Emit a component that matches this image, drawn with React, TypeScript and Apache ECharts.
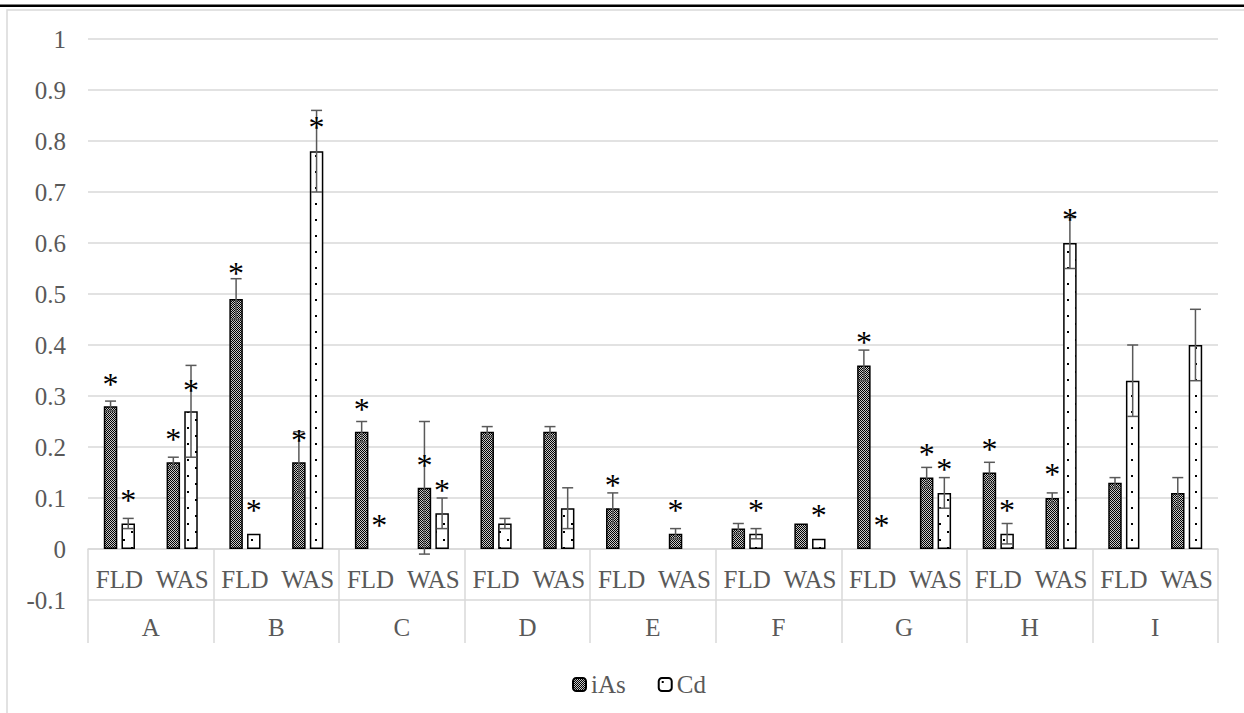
import React, { useEffect, useRef } from 'react';
import * as echarts from 'echarts';

const groups = ['A', 'B', 'C', 'D', 'E', 'F', 'G', 'H', 'I'];
const subs = ['FLD', 'WAS'];
const seriesNames = ['iAs', 'Cd'];

// values per sub-category, in order A-FLD, A-WAS, B-FLD, B-WAS, ...
const iAsValues = [0.28, 0.17, 0.49, 0.17, 0.23, 0.12, 0.23, 0.23, 0.08, 0.03, 0.04, 0.05, 0.36, 0.14, 0.15, 0.10, 0.13, 0.11];
const iAsErrors = [0.01, 0.01, 0.04, 0.06, 0.02, 0.13, 0.01, 0.01, 0.03, 0.01, 0.01, 0, 0.03, 0.02, 0.02, 0.01, 0.01, 0.03];
const iAsStars = [0.338, 0.23, 0.555, 0.227, 0.289, 0.178, null, null, 0.139, 0.09, null, null, 0.42, 0.2, 0.21, 0.16, null, null];

const cdValues = [0.05, 0.27, 0.03, 0.78, 0, 0.07, 0.05, 0.08, 0, 0, 0.03, 0.02, 0, 0.11, 0.03, 0.60, 0.33, 0.40];
const cdErrors = [0.01, 0.09, 0, 0.08, 0, 0.03, 0.01, 0.04, 0, 0, 0.01, 0, 0, 0.03, 0.02, 0.05, 0.07, 0.07];
const cdStars = [0.11, 0.326, 0.09, 0.841, 0.061, 0.129, null, null, null, null, 0.09, 0.08, 0.061, 0.171, 0.09, 0.66, null, null];

const yTicks = { min: -0.1, max: 1, interval: 0.1 };

const FONT = "'Liberation Serif', 'DejaVu Serif', serif";
const FS = 25;
const TEXT = '#595959';
const GRID = '#d9d9d9';

const BAR_W = 0.215;
const BAR_GAP = 0.31;
const STAR_FS = 32;

export default function App() {
  const ref = useRef<HTMLDivElement>(null);
  useEffect(() => {
    const el = ref.current!;
    const chart = echarts.init(el, null, { renderer: 'svg' });

    const mk = (w: number, h: number, draw: (c: CanvasRenderingContext2D) => void) => {
      const c = document.createElement('canvas');
      c.width = w;
      c.height = h;
      draw(c.getContext('2d')!);
      return c;
    };
    const checker = mk(2, 2, (ctx) => {
      ctx.fillStyle = '#c8c8c8';
      ctx.fillRect(0, 0, 2, 2);
      ctx.fillStyle = '#000000';
      ctx.fillRect(0, 0, 1, 1);
      ctx.fillRect(1, 1, 1, 1);
    });
    const dots = mk(16, 16, (ctx) => {
      ctx.fillStyle = '#ffffff';
      ctx.fillRect(0, 0, 16, 16);
      ctx.fillStyle = '#000000';
      ctx.fillRect(3, 3, 2, 2);
      ctx.fillRect(11, 11, 2, 2);
    });

    const xLabels: string[] = [];
    groups.forEach(() => subs.forEach((s) => xLabels.push(s)));

    const valuesBySeries = [iAsValues, cdValues];
    const errorsBySeries = [iAsErrors, cdErrors];
    const starsBySeries = [iAsStars, cdStars];

    const marks: { x: number; s: number; v: number; e: number; star: number | null }[] = [];
    for (let s = 0; s < 2; s++) {
      for (let i = 0; i < xLabels.length; i++) {
        marks.push({ x: i, s, v: valuesBySeries[s][i], e: errorsBySeries[s][i], star: starsBySeries[s][i] });
      }
    }

    const fills = [
      { image: checker, repeat: 'repeat' },
      { image: dots, repeat: 'repeat' },
    ];

    const option: any = {
      animation: false,
      backgroundColor: '#ffffff',
      textStyle: { fontFamily: FONT },
      graphic: [
        { type: 'rect', silent: true, z: -10, shape: { x: 7, y: 10, width: 1400, height: 900 }, style: { fill: 'none', stroke: GRID, lineWidth: 1.5 } },
        { type: 'rect', silent: true, z: 10, shape: { x: 0, y: 4.5, width: 1244, height: 2.5 }, style: { fill: '#000' } },
      ],
      grid: { left: 88, right: 26, top: 39, bottom: 113, containLabel: false },
      legend: {
        left: 567,
        top: 667,
        itemWidth: 13,
        itemHeight: 13,
        itemGap: 32,
        textStyle: { fontFamily: FONT, fontSize: FS, color: TEXT },
        data: seriesNames,
      },
      xAxis: [
        {
          type: 'category',
          data: xLabels,
          position: 'bottom',
          offset: -51,
          axisLine: { onZero: false, lineStyle: { color: GRID, width: 1.5 } },
          axisTick: { show: false },
          axisLabel: { interval: 0, margin: 18, fontFamily: FONT, fontSize: FS, color: TEXT },
        },
        {
          type: 'category',
          data: groups,
          position: 'bottom',
          offset: -51,
          axisLine: { show: false, onZero: false },
          axisTick: { show: true, length: 94, lineStyle: { color: GRID, width: 1.5 } },
          axisLabel: { interval: 0, margin: 66, fontFamily: FONT, fontSize: FS, color: TEXT },
        },
      ],
      yAxis: {
        type: 'value',
        min: yTicks.min,
        max: yTicks.max,
        interval: yTicks.interval,
        axisLine: { show: false },
        axisTick: { show: false },
        splitLine: { lineStyle: { color: GRID, width: 1.5 } },
        axisLabel: { margin: 22, fontFamily: FONT, fontSize: FS, color: TEXT },
      },
      series: [
        ...seriesNames.map((name, s) => ({
          type: 'bar',
          name,
          xAxisIndex: 0,
          barWidth: BAR_W * 100 + '%',
          barGap: BAR_GAP * 100 + '%',
          itemStyle: { color: fills[s], borderColor: '#000', borderWidth: 1.5 },
          data: valuesBySeries[s].map((v) => (v === 0 ? '-' : v)),
        })),
        {
          type: 'custom',
          xAxisIndex: 0,
          z: 5,
          silent: true,
          encode: { x: 0, y: 1 },
          data: marks.map((m) => [m.x, m.v]),
          renderItem: (params: any, api: any) => {
            const m = marks[params.dataIndex];
            const band = api.size([1, 0])[0];
            const bw = band * BAR_W;
            const off = (bw * (1 + BAR_GAP)) / 2;
            const cx = api.coord([m.x, 0])[0] + (m.s === 0 ? -off : off);
            const children: any[] = [];
            const st = { stroke: '#595959', lineWidth: 1.5 };
            if (m.e > 0) {
              const yt = api.coord([m.x, m.v + m.e])[1];
              const yb = api.coord([m.x, m.v - m.e])[1];
              const cw = 5.5;
              children.push({ type: 'line', shape: { x1: cx, y1: yt, x2: cx, y2: yb }, style: st });
              children.push({ type: 'line', shape: { x1: cx - cw, y1: yt, x2: cx + cw, y2: yt }, style: st });
              children.push({ type: 'line', shape: { x1: cx - cw, y1: yb, x2: cx + cw, y2: yb }, style: st });
            }
            if (m.star != null) {
              const ys = api.coord([m.x, m.star])[1];
              children.push({
                type: 'text',
                x: cx,
                y: ys + STAR_FS * 0.22,
                style: { text: '*', fill: '#000', fontSize: STAR_FS, fontFamily: FONT, align: 'center', verticalAlign: 'middle' },
              });
            }
            return { type: 'group', children };
          },
        },
      ],
    };
    chart.setOption(option);
    return () => chart.dispose();
  }, []);
  return <div ref={ref} style={{ position: 'fixed', left: 0, top: 0, width: 1244, height: 713, background: '#fff' }} />;
}
